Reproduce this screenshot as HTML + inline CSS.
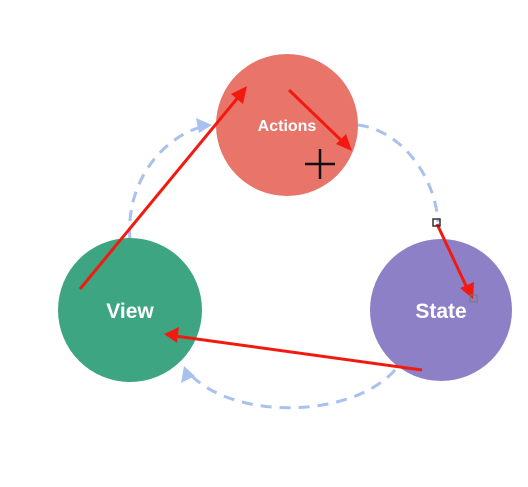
<!DOCTYPE html>
<html><head><style>body{margin:0;background:#fff}</style></head><body>
<svg width="528" height="487" xmlns="http://www.w3.org/2000/svg" style="display:block">
<defs>
<marker id="r" markerWidth="8" markerHeight="8" refX="6" refY="4" orient="auto" markerUnits="userSpaceOnUse"><path d="M0,0 L0,0" /></marker>
</defs>
<g fill="none" stroke="#a9c1ee" stroke-width="3" stroke-dasharray="11,8">
<path d="M130,240 C125,180 165,135 205,126"/>
<path d="M358,125 C400,130 435,175 438,222"/>
<path d="M395,370 C350,420 230,420 188,372"/>
</g>
<path d="M212,125 L196,118 L199,133 Z" fill="#a9c1ee"/>
<path d="M184,366 L181,383 L195,376 Z" fill="#a9c1ee"/>
<circle cx="287" cy="125" r="71" fill="#e8746a"/>
<circle cx="130" cy="310" r="72" fill="#3ea582"/>
<circle cx="441" cy="310" r="71" fill="#8d80c6"/>
<g font-family="Liberation Sans, sans-serif" font-weight="bold" fill="#fff" text-anchor="middle">
<text x="287" y="131" font-size="16">Actions</text>
<text x="130" y="318" font-size="21">View</text>
<text x="441" y="318" font-size="21">State</text>
</g>
<g stroke="#f21a10" stroke-width="3" fill="none">
<line x1="80" y1="289" x2="240" y2="95"/>
<line x1="289" y1="90" x2="344" y2="143"/>
<line x1="437" y1="224" x2="468" y2="290"/>
<line x1="422" y1="370" x2="175" y2="336"/>
</g>
<g fill="#f21a10">
<path d="M247,86 L231,94 L243,104 Z"/>
<path d="M352,151 L336,144 L346,134 Z"/>
<path d="M473,299 L460,288 L474,282 Z"/>
<path d="M164,334 L179,327 L177,343 Z"/>
</g>
<rect x="433" y="219" width="7" height="7" fill="none" stroke="#333" stroke-width="1.5"/>
<rect x="470" y="295" width="7" height="7" fill="none" stroke="#777" stroke-width="1"/>
<g stroke="#111" stroke-width="2.5">
<line x1="305" y1="164" x2="335" y2="164"/>
<line x1="320" y1="149" x2="320" y2="179"/>
</g>
</svg>
</body></html>
